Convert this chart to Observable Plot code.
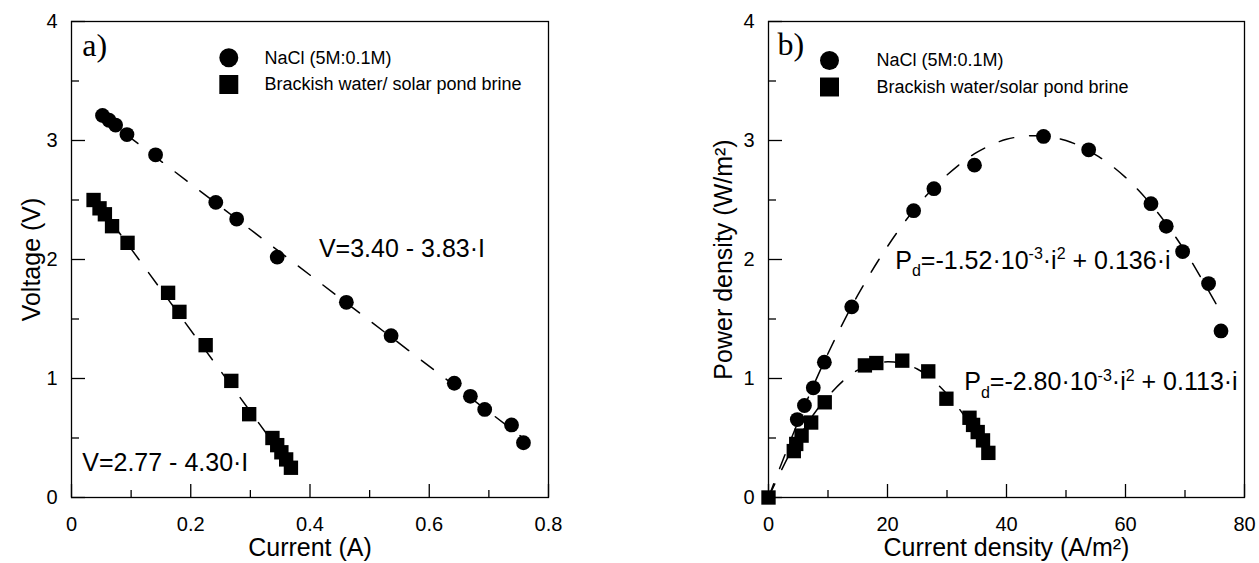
<!DOCTYPE html>
<html>
<head>
<meta charset="utf-8">
<script src="https://cdn.jsdelivr.net/npm/d3@7"></script>
<script src="https://cdn.jsdelivr.net/npm/@observablehq/plot@0.6"></script>
<style>
  body { margin: 0; background: #fff; }
  #wrap { display: flex; width: 1259px; height: 563px; overflow: hidden; }
</style>
</head>
<body>
<div id="wrap"></div>
<script>
// ---------- data ----------
const seriesNamesA = ["NaCl (5M:0.1M)", "Brackish water/ solar pond brine"];
const seriesNamesB = ["NaCl (5M:0.1M)", "Brackish water/solar pond brine"];

// Panel a) Voltage vs current
const naclCurrent  = [0.052, 0.063, 0.074, 0.093, 0.141, 0.242, 0.277, 0.345, 0.461, 0.536, 0.642, 0.669, 0.693, 0.738, 0.758];
const naclVoltage  = [3.21, 3.17, 3.13, 3.05, 2.88, 2.48, 2.34, 2.02, 1.64, 1.36, 0.96, 0.85, 0.74, 0.61, 0.46];
const brackCurrent = [0.037, 0.047, 0.056, 0.068, 0.094, 0.162, 0.181, 0.225, 0.268, 0.298, 0.337, 0.345, 0.352, 0.360, 0.368];
const brackVoltage = [2.50, 2.43, 2.38, 2.28, 2.14, 1.72, 1.56, 1.28, 0.98, 0.70, 0.50, 0.44, 0.38, 0.32, 0.25];
// dashed fit lines (end points)
const naclFitCurrent  = [0.050, 0.760];
const naclFitVoltage  = [3.21, 0.49];
const brackFitCurrent = [0.037, 0.369];
const brackFitVoltage = [2.52, 0.25];

// Panel b) Power density vs current density
const naclDensity  = [4.84, 6.04, 7.53, 9.39, 13.99, 24.39, 27.80, 34.62, 46.22, 53.81, 64.28, 66.85, 69.60, 73.96, 76.05];
const naclPower    = [0.655, 0.773, 0.922, 1.137, 1.602, 2.41, 2.595, 2.793, 3.034, 2.922, 2.469, 2.279, 2.067, 1.798, 1.40];
const brackDensity = [0, 4.25, 4.66, 5.56, 7.17, 9.45, 16.20, 18.12, 22.48, 26.85, 29.90, 33.78, 34.38, 35.16, 36.05, 36.95];
const brackPower   = [0, 0.39, 0.45, 0.52, 0.63, 0.80, 1.11, 1.13, 1.15, 1.06, 0.83, 0.67, 0.61, 0.55, 0.48, 0.375];
// dashed fit curves
const naclCurveDensity  = [0, 5, 10, 15, 20, 25, 30, 35, 40, 45, 50, 55, 60, 65, 70, 76.2];
const naclCurvePower    = [0, 0.64, 1.21, 1.70, 2.11, 2.45, 2.71, 2.90, 3.01, 3.04, 3.00, 2.88, 2.69, 2.42, 2.07, 1.54];
const brackCurveDensity = [0, 5, 10, 15, 20, 25, 30, 35, 37.2];
const brackCurvePower   = [0, 0.50, 0.85, 1.07, 1.14, 1.08, 0.87, 0.53, 0.33];

// ticks & labels
const xMajorA = [0, 0.2, 0.4, 0.6, 0.8];
const xMinorA = [0.1, 0.3, 0.5, 0.7];
const xMajorB = [0, 20, 40, 60, 80];
const xMinorB = [10, 30, 50, 70];
const yMajor  = [0, 1, 2, 3, 4];
const yMinor  = [0.5, 1.5, 2.5, 3.5];

const eqA1 = "V=3.40 - 3.83·I";
const eqA2 = "V=2.77 - 4.30·I";
const eqB1 = "Pd=-1.52·10-3·i2 + 0.136·i";
const eqB2 = "Pd=-2.80·10-3·i2 + 0.113·i";
const eqB1Parts = [["P"], ["d", "sub"], ["=-1.52·10"], ["-3", "sup"], ["·i"], ["2", "sup"], [" + 0.136·i"]];
const eqB2Parts = [["P"], ["d", "sub"], ["=-2.80·10"], ["-3", "sup"], ["·i"], ["2", "sup"], [" + 0.113·i"]];

// ---------- helpers ----------
const FONT = '"Liberation Sans", Arial, Helvetica, sans-serif';
const SERIF = '"Liberation Serif", "Times New Roman", serif';
const zip = (xs, ys, kx, ky) => xs.map((v, i) => ({[kx]: v, [ky]: ys[i]}));

const H = 563, mTop = 21, mBottom = 66;
const frameH = H - mTop - mBottom;
const EQ_SIZE = 25;

function richify(svg, plain, parts, base) {
  d3.select(svg).selectAll("text").filter(function () { return this.textContent === plain; })
    .each(function () {
      const t = d3.select(this);
      t.text(null);
      let cur = 0;
      for (const [s, kind] of parts) {
        const target = kind === "sub" ? base * 0.30 : kind === "sup" ? -base * 0.38 : 0;
        const ts = t.append("tspan").text(s);
        if (kind) ts.attr("font-size", base * 0.64);
        if (target !== cur) ts.attr("dy", target - cur);
        cur = target;
      }
    });
}

function commonMarks(frameW, xMajor, xMinor) {
  const tickStyle = {stroke: "black", strokeWidth: 1.3};
  return [
    Plot.frame({stroke: "black", strokeWidth: 1.3}),
    Plot.tickX(xMajor, {x: d => d, insetTop: frameH - 13, ...tickStyle}),
    Plot.tickX(xMinor, {x: d => d, insetTop: frameH - 7, ...tickStyle}),
    Plot.tickY(yMajor, {y: d => d, insetRight: frameW - 14, ...tickStyle}),
    Plot.tickY(yMinor, {y: d => d, insetRight: frameW - 8, ...tickStyle}),
    Plot.axisX(xMajor, {tickSize: 0, tickPadding: 19, fontSize: 20, tickFormat: d => String(d), label: null}),
    Plot.axisY(yMajor, {tickSize: 0, tickPadding: 14, fontSize: 20, tickFormat: d => String(d), label: null})
  ];
}

function legendMarks(names, cdx, tdx, dy1, dy2) {
  const t = {text: d => d, frameAnchor: "top-left", textAnchor: "start", lineAnchor: "middle", fontSize: 18};
  return [
    Plot.dot([0], {frameAnchor: "top-left", dx: cdx, dy: dy1, r: 9.5, fill: "black", symbol: "circle"}),
    Plot.dot([0], {frameAnchor: "top-left", dx: cdx, dy: dy2, r: 10.7, fill: "black", symbol: "square"}),
    Plot.text([names[0]], {...t, dx: tdx, dy: dy1}),
    Plot.text([names[1]], {...t, dx: tdx, dy: dy2})
  ];
}

const lineStyle = {stroke: "black", strokeWidth: 1.5, strokeDasharray: "15,16"};
const style = {fontFamily: FONT, background: "white", color: "black", overflow: "visible"};
const xTitle = {text: d => d, frameAnchor: "bottom", textAnchor: "middle", lineAnchor: "middle", dy: 50, fontSize: 25};
const yTitle = {text: d => d, frameAnchor: "left", textAnchor: "middle", lineAnchor: "middle", rotate: -90, fontSize: 25};
const panelLabel = {text: d => d, frameAnchor: "top-left", textAnchor: "start", lineAnchor: "middle", fontSize: 32, fontFamily: SERIF};
const eqStyle = {text: d => d, textAnchor: "start", lineAnchor: "middle", fontSize: EQ_SIZE};
const circleDot = {r: 7.4, fill: "black", symbol: "circle"};
const squareDot = {r: 8.1, fill: "black", symbol: "square"};

// ---------- panel a ----------
const WA = 629, mLA = 71, mRA = 81;
const frameWA = WA - mLA - mRA;
const plotA = Plot.plot({
  width: WA, height: H, marginLeft: mLA, marginRight: mRA, marginTop: mTop, marginBottom: mBottom,
  x: {domain: [0, 0.8]}, y: {domain: [0, 4]},
  style,
  marks: [
    Plot.line(zip(naclFitCurrent, naclFitVoltage, "I", "V"), {x: "I", y: "V", ...lineStyle}),
    Plot.line(zip(brackFitCurrent, brackFitVoltage, "I", "V"), {x: "I", y: "V", ...lineStyle}),
    Plot.dot(zip(naclCurrent, naclVoltage, "I", "V"), {x: "I", y: "V", ...circleDot}),
    Plot.dot(zip(brackCurrent, brackVoltage, "I", "V"), {x: "I", y: "V", ...squareDot}),
    ...commonMarks(frameWA, xMajorA, xMinorA),
    Plot.text(["Current (A)"], xTitle),
    Plot.text(["Voltage (V)"], {...yTitle, dx: -40}),
    Plot.text(["a)"], {...panelLabel, dx: 10.7, dy: 23.8}),
    ...legendMarks(seriesNamesA, 157.3, 193, 36.3, 63),
    Plot.text([eqA1], {...eqStyle, x: [0.415], y: [2.09]}),
    Plot.text([eqA2], {...eqStyle, x: [0.018], y: [0.29]})
  ]
});

// ---------- panel b ----------
const WB = 630, mLB = 139, mRB = 15;
const frameWB = WB - mLB - mRB;
const plotB = Plot.plot({
  width: WB, height: H, marginLeft: mLB, marginRight: mRB, marginTop: mTop, marginBottom: mBottom,
  x: {domain: [0, 80]}, y: {domain: [0, 4]},
  style,
  marks: [
    Plot.line(zip(naclCurveDensity, naclCurvePower, "i", "P"), {x: "i", y: "P", curve: "catmull-rom", ...lineStyle}),
    Plot.line(zip(brackCurveDensity, brackCurvePower, "i", "P"), {x: "i", y: "P", curve: "catmull-rom", ...lineStyle}),
    Plot.dot(zip(naclDensity, naclPower, "i", "P"), {x: "i", y: "P", ...circleDot}),
    Plot.dot(zip(brackDensity, brackPower, "i", "P"), {x: "i", y: "P", ...squareDot}),
    ...commonMarks(frameWB, xMajorB, xMinorB),
    Plot.text(["Current density (A/m²)"], xTitle),
    Plot.text(["Power density (W/m²)"], {...yTitle, dx: -45}),
    Plot.text(["b)"], {...panelLabel, dx: 9, dy: 22.8}),
    ...legendMarks(seriesNamesB, 61, 108, 39, 65.5),
    Plot.text([eqB1], {...eqStyle, x: [21.3], y: [1.99]}),
    Plot.text([eqB2], {...eqStyle, x: [32.9], y: [0.97]})
  ]
});
richify(plotB, eqB1, eqB1Parts, EQ_SIZE);
richify(plotB, eqB2, eqB2Parts, EQ_SIZE);

const wrap = document.getElementById("wrap");
wrap.appendChild(plotA);
wrap.appendChild(plotB);
</script>
</body>
</html>
